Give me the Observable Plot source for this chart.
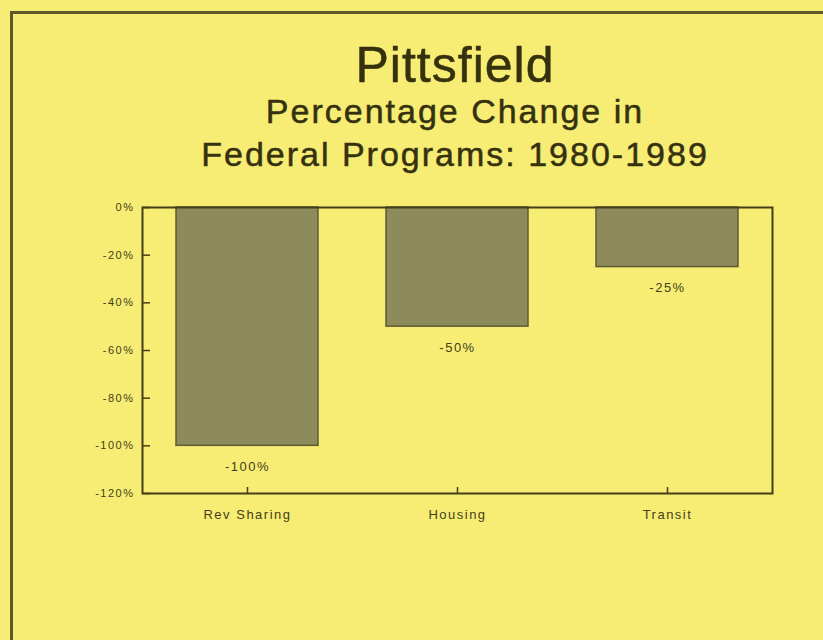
<!DOCTYPE html>
<html>
<head>
<meta charset="utf-8">
<script src="https://cdn.jsdelivr.net/npm/d3@7"></script>
<script src="https://cdn.jsdelivr.net/npm/@observablehq/plot@0.6"></script>
<style>
  html, body { margin: 0; padding: 0; }
  body { width: 823px; height: 640px; background: #f7ed74; position: relative; overflow: hidden; font-family: "Liberation Sans", Arial, sans-serif; color: #35310f; }
  #border { position: absolute; left: 10px; top: 11px; width: 830px; height: 640px; border-left: 3px solid #5e5828; border-top: 3px solid #5e5828; }
  .t { position: absolute; left: 0; width: 910px; text-align: center; white-space: nowrap; line-height: 1; -webkit-text-stroke: 0.5px #35310f; }
  #title { top: 40px; font-size: 50px; letter-spacing: 1px; }
  #sub1 { top: 94px; font-size: 34px; letter-spacing: 2px; }
  #sub2 { top: 137px; font-size: 34px; letter-spacing: 2px; }
  #chart { position: absolute; left: 0; top: 180px; }
  #chart svg text { letter-spacing: 1.5px; }
</style>
</head>
<body>
<div id="border"></div>
<div class="t" id="title">Pittsfield</div>
<div class="t" id="sub1">Percentage Change in</div>
<div class="t" id="sub2">Federal Programs: 1980-1989</div>
<div id="chart"></div>
<script>
const programs = ["Rev Sharing", "Housing", "Transit"];
const changes = [-100, -50, -25];
const yTicks = [0, -20, -40, -60, -80, -100, -120];

const data = programs.map((p, i) => ({program: p, change: changes[i]}));
const ink = "#433e18";
const W = 823, H = 360, mL = 142, mR = 51, mT = 27, mB = 47;
const frameW = W - mL - mR, frameH = H - mT - mB;

const chart = Plot.plot({
  width: W,
  height: H,
  marginLeft: mL,
  marginRight: mR,
  marginTop: mT,
  marginBottom: mB,
  style: {background: "transparent", fontFamily: "'Liberation Sans', Arial, sans-serif", color: ink},
  x: {domain: programs, paddingInner: 0.324, paddingOuter: 0.162, label: null},
  y: {domain: [-120, 0], label: null},
  marks: [
    Plot.barY(data, {x: "program", y: "change", fill: "#8d8a5b", stroke: "#5f5b32", strokeWidth: 1.5}),
    Plot.text(data, {x: "program", y: "change", text: d => d.change + "%", dy: 21, fontSize: 13, fill: ink}),
    Plot.tickY(yTicks, {y: d => d, insetRight: frameW - 8, stroke: ink, strokeWidth: 1.5}),
    Plot.tickX(programs, {x: d => d, insetTop: frameH - 6, stroke: ink, strokeWidth: 1.5}),
    Plot.axisY({ticks: yTicks, tickSize: 0, tickPadding: 8, tickFormat: d => d + "%", fontSize: 11, fill: ink}),
    Plot.axisX({tickSize: 0, tickPadding: 16, fontSize: 13, fill: ink}),
    Plot.frame({stroke: ink, strokeWidth: 2})
  ]
});
document.getElementById("chart").appendChild(chart);
</script>
</body>
</html>
